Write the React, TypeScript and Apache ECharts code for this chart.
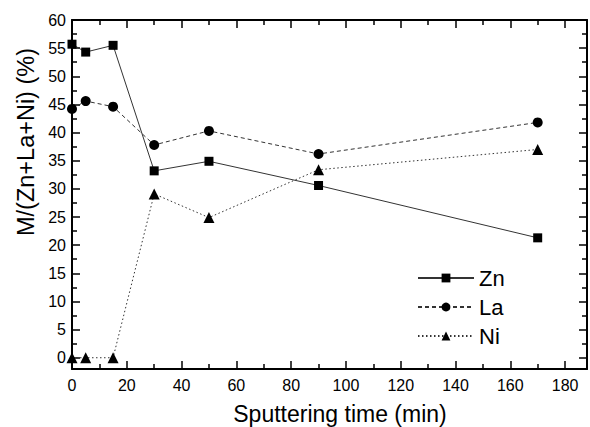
import React, { useEffect, useRef } from "react";
import * as echarts from "echarts";

const times = [0, 5, 15, 30, 50, 90, 170];
const zn = [55.7, 54.3, 55.5, 33.2, 34.9, 30.6, 21.3];
const la = [44.2, 45.6, 44.6, 37.8, 40.3, 36.2, 41.8];
const ni = [0, 0, 0, 29.1, 24.9, 33.4, 37.0];

const xMajor = [0, 20, 40, 60, 80, 100, 120, 140, 160, 180];
const xMinor = [10, 30, 50, 70, 90, 110, 130, 150, 170];
const yMajor = [0, 5, 10, 15, 20, 25, 30, 35, 40, 45, 50, 55, 60];
const yMinor = [2.5, 7.5, 12.5, 17.5, 22.5, 27.5, 32.5, 37.5, 42.5, 47.5, 52.5, 57.5];

const X_MIN = 0;
const X_MAX = 188;
const Y_MIN = -2;
const Y_MAX = 60;

const FONT = "'Liberation Sans', Arial, Helvetica, sans-serif";

export default function App() {
  const ref = useRef<HTMLDivElement>(null);
  useEffect(() => {
    if (!ref.current) return;
    const chart = echarts.init(ref.current, undefined, { renderer: "svg" });

    const mkX = (pos: string, major: boolean, labels: boolean) => ({
      type: "value",
      min: X_MIN,
      max: X_MAX,
      position: pos,
      axisLine: { show: major, onZero: false, lineStyle: { color: "#000", width: 2 } },
      axisTick: {
        show: true,
        inside: true,
        length: major ? 8 : 5,
        customValues: major ? xMajor : xMinor,
        lineStyle: { color: "#000", width: 1.5 },
      },
      axisLabel: {
        show: labels,
        customValues: xMajor,
        margin: 8,
        color: "#000",
        fontSize: 16,
        fontFamily: FONT,
      },
      splitLine: { show: false },
    });
    const mkY = (pos: string, major: boolean, labels: boolean) => ({
      type: "value",
      min: Y_MIN,
      max: Y_MAX,
      position: pos,
      axisLine: { show: major, onZero: false, lineStyle: { color: "#000", width: 2 } },
      axisTick: {
        show: true,
        inside: true,
        length: major ? 8 : 5,
        customValues: major ? yMajor : yMinor,
        lineStyle: { color: "#000", width: 1.5 },
      },
      axisLabel: {
        show: labels,
        customValues: yMajor,
        margin: 6,
        color: "#000",
        fontSize: 16,
        fontFamily: FONT,
      },
      splitLine: { show: false },
    });

    const mkSeries = (name: string, vals: number[], symbol: string, size: number, lineType: any) => ({
      name,
      type: "line",
      data: times.map((t, i) => [t, vals[i]]),
      symbol,
      symbolSize: size,
      itemStyle: { color: "#000" },
      lineStyle: { color: "#333", width: 1, type: lineType },
      xAxisIndex: 0,
      yAxisIndex: 0,
      z: 3,
    });

    chart.setOption({
      animation: false,
      backgroundColor: "#fff",
      textStyle: { fontFamily: FONT },
      grid: { left: 72, right: 3, top: 20, bottom: 58, containLabel: false },
      xAxis: [mkX("bottom", true, true), mkX("bottom", false, false), mkX("top", true, false), mkX("top", false, false)],
      yAxis: [mkY("left", true, true), mkY("left", false, false), mkY("right", true, false), mkY("right", false, false)],
      legend: {
        orient: "vertical",
        left: 412,
        top: 262,
        itemWidth: 56,
        itemHeight: 11,
        itemGap: 7,
        textStyle: { fontSize: 22, color: "#000", fontFamily: FONT },
        data: ["Zn", "La", "Ni"],
      },
      series: [
        mkSeries("Zn", zn, "rect", 9, "solid"),
        mkSeries("La", la, "circle", 10, [4, 3]),
        mkSeries("Ni", ni, "triangle", 11, [1.5, 2.5]),
      ],
      graphic: [
        {
          type: "text",
          x: 340,
          y: 414,
          style: {
            text: "Sputtering time (min)",
            fontSize: 23,
            fontFamily: FONT,
            fill: "#000",
            align: "center",
            verticalAlign: "middle",
          },
        },
        {
          type: "text",
          x: 26,
          y: 142,
          rotation: Math.PI / 2,
          style: {
            text: "M/(Zn+La+Ni) (%)",
            fontSize: 23.5,
            fontFamily: FONT,
            fill: "#000",
            align: "center",
            verticalAlign: "middle",
          },
        },
      ],
    });
    return () => chart.dispose();
  }, []);
  return <div ref={ref} style={{ width: 590, height: 427, position: "absolute", left: 0, top: 0 }} />;
}
